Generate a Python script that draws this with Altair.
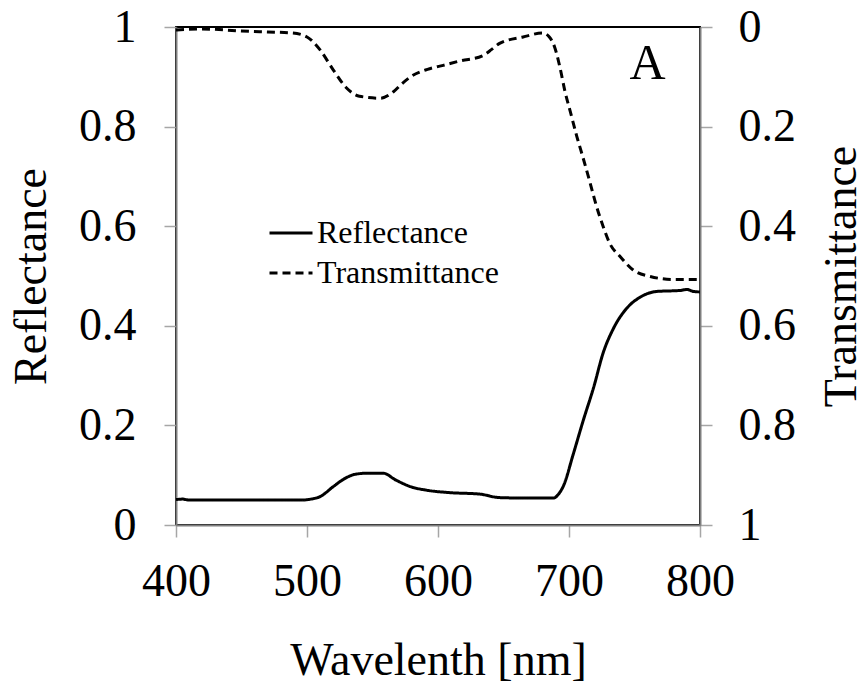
import altair as alt
import pandas as pd

# Reflectance (solid, left axis)
wl_r = [400, 405, 410, 450, 495, 503, 510, 520, 528, 537, 546, 558, 568, 579, 591, 609,
        632, 647, 670, 688, 692, 696, 703, 711, 719, 726, 734, 744, 754, 767, 785, 790,
        795, 800]
refl = [0.051, 0.052, 0.050, 0.050, 0.050, 0.052, 0.057, 0.077, 0.092, 0.102, 0.104, 0.104,
        0.090, 0.077, 0.070, 0.065, 0.062, 0.055, 0.054, 0.054, 0.062, 0.080, 0.140, 0.211,
        0.278, 0.345, 0.395, 0.435, 0.457, 0.469, 0.471, 0.473, 0.469, 0.468]

# Transmittance (dashed, right axis, reversed)
wl_t = [400, 420, 450, 470, 489, 500, 510, 520, 530, 540, 556, 566, 572, 579, 592, 604,
        617, 634, 641, 647, 665, 680, 685, 689, 693, 697, 701, 706, 711, 716, 721, 726,
        731, 739, 749, 762, 780, 800]
trans = [0.006, 0.004, 0.008, 0.010, 0.012, 0.020, 0.046, 0.086, 0.122, 0.139, 0.143, 0.130,
         0.115, 0.100, 0.085, 0.077, 0.068, 0.058, 0.045, 0.033, 0.020, 0.012, 0.020, 0.040,
         0.080, 0.130, 0.170, 0.220, 0.265, 0.312, 0.360, 0.400, 0.434, 0.461, 0.488, 0.501,
         0.507, 0.507]

series_names = ["Reflectance", "Transmittance"]
y_ticks = [0, 0.2, 0.4, 0.6, 0.8, 1]
x_ticks = [400, 500, 600, 700, 800]
panel_label = ["A"]
panel_pos = [760]
panel_val = [0.895]

FONT = "Liberation Serif"

df_r = pd.DataFrame({"wl": wl_r, "val": refl, "series": series_names[0]})
df_t = pd.DataFrame({"wl": wl_t, "val": trans, "series": series_names[1]})
df_a = pd.DataFrame({"wl": panel_pos, "val": panel_val, "txt": panel_label})

x_scale = alt.Scale(domain=[400, 800], nice=False, zero=False)
x_enc = alt.X("wl:Q", scale=x_scale,
              axis=alt.Axis(values=x_ticks, title="Wavelenth [nm]", orient="bottom",
                            titleY=149, titleBaseline="alphabetic", grid=False,
                            labelFlush=False, labelPadding=22))

dash_scale = alt.Scale(domain=series_names, range=[[1, 0], [8, 5]])
legend = alt.Legend(orient="none", legendX=92, legendY=183, title=None,
                    symbolType="stroke", symbolSize=1849, symbolStrokeWidth=3,
                    symbolStrokeColor="black", labelFontSize=32, labelFont=FONT,
                    labelLimit=400, rowPadding=1, labelOffset=3, padding=0)

axis_common = dict(values=y_ticks, format="~g", grid=False, labelFlush=False)

refl_line = alt.Chart(df_r).mark_line(color="black", strokeWidth=3, interpolate="monotone").encode(
    x=x_enc,
    y=alt.Y("val:Q", scale=alt.Scale(domain=[0, 1], nice=False),
            axis=alt.Axis(orient="left", title="Reflectance", titleX=-131, titleY=249,
                          titleBaseline="alphabetic", labelPadding=28, **axis_common)),
    strokeDash=alt.StrokeDash("series:N", scale=dash_scale, legend=legend),
)

trans_line = alt.Chart(df_t).mark_line(color="black", strokeWidth=3, interpolate="monotone").encode(
    x=x_enc,
    y=alt.Y("val:Q", scale=alt.Scale(domain=[0, 1], nice=False, reverse=True),
            axis=alt.Axis(orient="right", title="Transmittance", titleX=155, titleY=249,
                          titleAngle=270, titleBaseline="alphabetic", labelPadding=26,
                          **axis_common)),
    strokeDash=alt.StrokeDash("series:N", scale=dash_scale, legend=legend),
)

label_a = alt.Chart(df_a).mark_text(font=FONT, fontSize=50, color="black",
                                    align="center", baseline="alphabetic").encode(
    x=alt.X("wl:Q", scale=x_scale),
    y=alt.Y("val:Q", scale=alt.Scale(domain=[0, 1], nice=False), axis=None),
    text="txt:N",
)

chart = alt.layer(refl_line, trans_line, label_a).resolve_scale(
    y="independent"
).properties(
    width=524, height=498,
    autosize=alt.AutoSizeParams(type="none"),
    padding={"left": 176, "top": 27, "right": 167, "bottom": 161},
    background="white",
).configure_view(
    stroke="black", strokeWidth=2
).configure_axis(
    labelFont=FONT, titleFont=FONT, labelFontSize=46, titleFontSize=46,
    labelColor="black", titleColor="black", titleFontWeight="normal",
    domainColor="#7f7f7f", domainWidth=2, tickColor="#a6a6a6", tickWidth=1.5,
    tickSize=12, grid=False,
)

chart.save("out.html", embed_options={"renderer": "svg", "actions": False})
